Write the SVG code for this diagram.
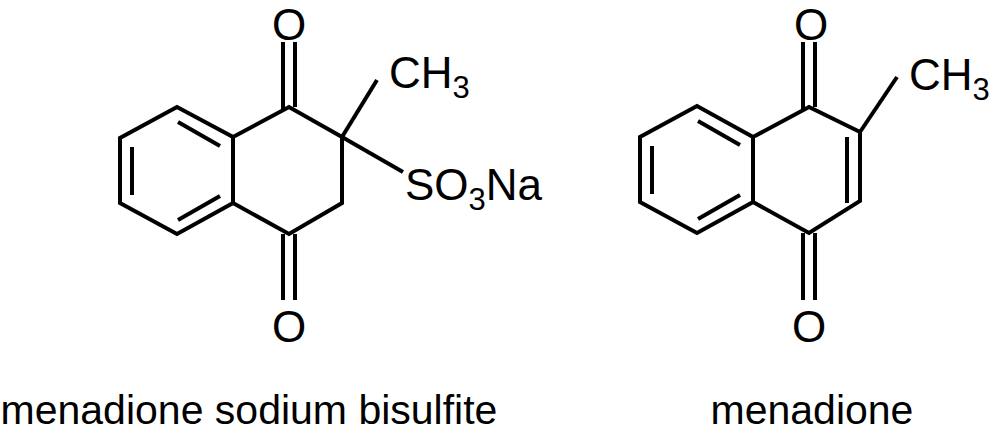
<svg xmlns="http://www.w3.org/2000/svg" width="1000" height="435" viewBox="0 0 1000 435">
<style>
line,polyline,polygon{stroke:#000;stroke-width:4;fill:none;stroke-linejoin:miter}
text{font-family:"Liberation Sans",Arial,sans-serif;fill:#000}
.a{font-size:44px}
.s{font-size:31px}
.c{font-size:41px}
</style>
<rect width="1000" height="435" fill="#fff"/>
<g id="menadione-sodium-bisulfite">
<polygon points="177,107 120,138 120,203 177,234 233,203 233,137"/>
<polyline points="233,137 289,107 342,137 342,203 289,234 233,203"/>
<line x1="178" y1="122" x2="220" y2="146"/>
<line x1="132" y1="147" x2="132" y2="195"/>
<line x1="178" y1="220" x2="220" y2="196"/>
<line x1="283" y1="42" x2="283" y2="110"/>
<line x1="295" y1="42" x2="295" y2="107"/>
<line x1="283" y1="234" x2="283" y2="300"/>
<line x1="295" y1="234" x2="295" y2="300"/>
<line x1="342" y1="137" x2="377" y2="80"/>
<line x1="342" y1="137" x2="403" y2="172"/>
<text class="a" x="289" y="40" text-anchor="middle">O</text>
<text class="a" x="289" y="342" text-anchor="middle">O</text>
<text class="a" x="389" y="88">CH<tspan class="s" dy="10">3</tspan></text>
<text class="a" x="405" y="200">SO<tspan class="s" dy="10">3</tspan><tspan dy="-10">Na</tspan></text>
<text class="c" x="249" y="424" text-anchor="middle">menadione sodium bisulfite</text>
</g>
<g id="menadione">
<polygon points="697,106 640,137 640,202 697,233 753,202 753,137"/>
<polyline points="753,137 809,107 860,132 860,201 809,233 753,202"/>
<line x1="698" y1="121" x2="740" y2="145"/>
<line x1="652" y1="146" x2="652" y2="194"/>
<line x1="698" y1="219" x2="740" y2="195"/>
<line x1="847" y1="137" x2="847" y2="203"/>
<line x1="803" y1="42" x2="803" y2="110"/>
<line x1="815" y1="42" x2="815" y2="107"/>
<line x1="803" y1="233" x2="803" y2="300"/>
<line x1="815" y1="233" x2="815" y2="300"/>
<line x1="860" y1="132" x2="897" y2="77"/>
<text class="a" x="811" y="40" text-anchor="middle">O</text>
<text class="a" x="809" y="342" text-anchor="middle">O</text>
<text class="a" x="909" y="90">CH<tspan class="s" dy="10">3</tspan></text>
<text class="c" x="812" y="424" text-anchor="middle">menadione</text>
</g>
</svg>
